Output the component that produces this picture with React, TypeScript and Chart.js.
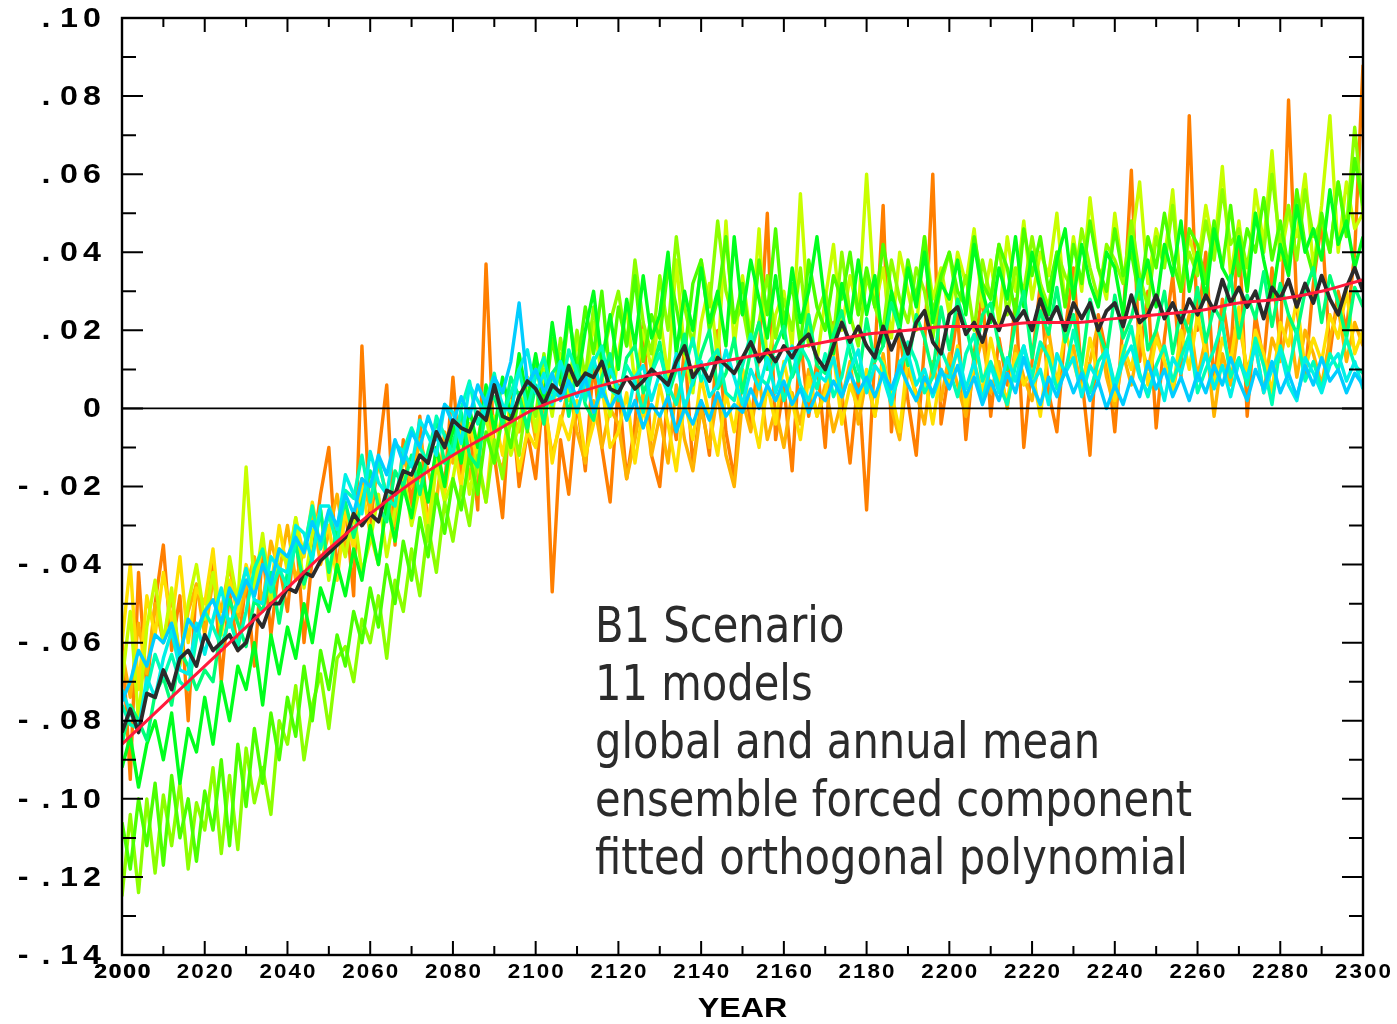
import React, { useEffect, useRef } from "react";
import { Chart, registerables } from "chart.js";

Chart.register(...registerables);

// Values are in thousandths (-86 = -.086)
const YEARS = Array.from({ length: 151 }, (_, i) => 2000 + i * 2);
const FIT_YEARS = Array.from({ length: 31 }, (_, i) => 2000 + i * 10);

const FIT = [-86, -76, -66, -56, -46, -36, -27, -19, -12, -6, 0, 4, 7, 9, 11, 13, 15, 17, 19, 20, 21, 21, 22, 22, 23, 24, 25, 27, 28, 30, 33];

const MEAN = [
  -83, -77, -83, -73, -74, -67, -72, -64, -62, -66, -58, -62, -60, -58, -62, -60, -53, -56, -50, -50,
  -46, -47, -42, -43, -39, -37, -35, -33, -27, -30, -27, -29, -21, -22, -16, -17, -12, -14, -6, -10,
  -3, -5, -6, -1, -3, 6, -2, -3, 3, 7, 5, 1, 6, 4, 11, 6, 9, 8, 12, 5,
  4, 8, 5, 7, 10, 8, 6, 12, 16, 8, 11, 7, 13, 11, 9, 13, 17, 12, 15, 12,
  16, 13, 17, 19, 13, 10, 16, 22, 17, 21, 16, 13, 21, 15, 20, 14, 22, 25, 17, 14,
  24, 26, 19, 22, 17, 24, 20, 26, 22, 25, 20, 28, 22, 26, 20, 27, 23, 27, 20, 25,
  27, 21, 29, 22, 24, 29, 23, 27, 22, 28, 24, 29, 25, 33, 27, 31, 26, 30, 23, 31,
  28, 33, 26, 32, 27, 34, 28, 24, 31, 36, 30,
];

const ORANGE = [
  -58, -95, -42, -72, -50, -35, -62, -48, -80, -45, -56, -38, -70, -47, -62, -44, -66, -36, -58, -40,
  -52, -30, -60, -38, -22, -10, -42, -25, -48, 16, -30, -12, 6, -35, -8, -25, -2, -32, -10, -20,
  8, -18, -4, -26, 37, -12, -28, 4, -20, -6, -18, 6, -47, -8, -22, 2, -16, 12, -10, -24,
  6, -18, -4, 22, -12, -20, 4, -8, 16, -15, 2, -12, 20, -6, -18, 10, -4, 14, 50, -8,
  6, -16, 18, -2, 12, -10, 22, 4, -14, 8, -26, 14, 52, -6, 20, 2, -12, 16, 60, -4,
  10, 24, -8, 14, 30, -2, 18, 6, 28, -10, 12, 32, 4, -6, 20, 36, 8, -12, 24, 14,
  -6, 22, 61, 12, 30, -5, 18, 34, 8, 75, 20, 40, 6, 28, 14, 46, -2, 24, 12, 36,
  16, 79, 26, 8, 32, 48, 14, 30, 20, 40, 88,
];

const AMBER = [
  -62, -74, -55, -68, -50, -60, -48, -64, -52, -45, -58, -44, -52, -40, -54, -46, -38, -50, -34, -42,
  -30, -44, -36, -26, -40, -32, -22, -36, -28, -18, -26, -14, -22, -30, -12, -20, -8, -16, -24, -6,
  -14, -2, -18, -8, 2, -10, -16, 0, -6, 4, -8, 2, -12, -4, 6, -6, -14, 2, -10, 0,
  -4, -18, -8, 4, -12, -2, -14, 6, -8, -16, 0, -10, 4, -12, -20, 2, -6, 8, -8, 0,
  -10, 4, -4, 10, -2, 6, -6, 2, 12, -4, 8, -2, 14, 0, -8, 10, 4, -4, 12, 2,
  14, 6, -2, 10, 18, 4, 12, 0, 16, 8, 2, 14, 20, 6, 10, 16, 4, 12, 22, 8,
  0, 14, 6, 18, 10, 20, 12, 4, 16, 24, 8, 18, -2, 14, 6, 22, 10, 16, 4, 18,
  12, 24, 8, 20, 14, 6, 18, 26, 12, 22, 16,
];

const GOLD = [
  -60, -40, -72, -48, -58, -42, -55, -38, -60, -46, -50, -36, -58, -44, -52, -40, -48, -34, -46, -30,
  -42, -28, -38, -24, -36, -30, -44, -26, -36, -20, -32, -40, -24, -34, -18, -28, -16, -30, -12, -22,
  -8, -20, -4, -14, -24, -2, -12, 2, -16, -6, -10, 4, -14, -2, -8, 2, -12, -4, 6, -10,
  -6, 4, -14, 0, -8, 6, -4, -16, 2, -8, 8, -2, -12, 4, -6, 10, 0, -10, 6, -4,
  12, 2, -8, 8, -2, 4, 14, -4, 6, 0, 10, -2, 12, 4, -6, 14, 2, 8, -4, 10,
  6, 16, 0, 12, 4, 18, 8, 2, 14, 6, 10, -2, 16, 6, 20, 12, 4, 18, 8, 14,
  2, 16, 10, 22, 6, 18, 12, 4, 20, 10, 24, 14, 6, 18, 12, 26, 8, 20, 14, 4,
  22, 16, 28, 10, 18, 12, 24, 18, 30, 14, 20,
];

const YELLOWGREEN = [
  -70, -52, -80, -56, -44, -60, -46, -66, -50, -40, -54, -42, -58, -38, -50, -15, -46, -32, -50, -36,
  -40, -28, -46, -32, -26, -44, -30, -38, -26, -42, -34, -22, -38, -26, -16, -30, -20, -34, -14, -24,
  -18, -6, -22, -10, -2, -14, 0, -12, -4, 8, -6, 10, -2, 14, 2, 18, 4, 22, 8, -2,
  14, 26, 6, 20, 10, 24, 8, 38, 14, 4, 22, 32, 12, 48, 16, 34, 18, 46, 10, 24,
  30, 16, 55, 22, 12, 28, 42, 20, 34, 24, 60, 26, 36, 18, 40, 30, 20, 44, 28, 36,
  24, 40, 32, 46, 26, 38, 22, 44, 30, 48, 28, 40, 34, 50, 26, 44, 30, 54, 36, 28,
  50, 34, 42, 58, 32, 46, 38, 56, 30, 44, 36, 52, 40, 62, 34, 48, 30, 56, 42, 66,
  38, 50, 44, 60, 36, 52, 75, 40, 58, 46, 50,
];

const LIME = [
  -125, -104, -124, -100, -119, -99, -112, -96, -118, -101, -108, -92, -114, -94, -113, -87, -101, -92, -104, -80,
  -86, -71, -90, -76, -68, -82, -64, -61, -70, -54, -60, -48, -64, -44, -52, -36, -48, -30, -42, -24,
  -34, -20, -30, -12, -24, -8, -18, -2, -12, 4, -2, 14, 0, 18, 6, 20, 8, 26, 12, 22,
  30, 16, 38, 22, 14, 34, 20, 44, 26, 16, 38, 26, 48, 30, 22, 26, 14, 22, 34, 18,
  28, 20, 36, 16, 24, 30, 18, 40, 24, 16, 34, 26, 20, 38, 28, 22, 36, 30, 18, 32,
  40, 26, 34, 20, 38, 28, 42, 24, 36, 30, 44, 32, 26, 40, 34, 30, 46, 36, 28, 42,
  38, 32, 48, 34, 26, 44, 36, 52, 30, 40, 34, 48, 38, 56, 42, 46, 36, 50, 40, 60,
  42, 52, 38, 56, 44, 48, 40, 58, 46, 72, 50,
];

const GREEN1 = [
  -106, -118, -100, -112, -96, -117, -94, -110, -100, -116, -98, -108, -90, -112, -86, -102, -82, -96, -78, -90,
  -74, -84, -66, -80, -62, -72, -58, -66, -52, -60, -46, -56, -40, -50, -34, -44, -28, -38, -22, -32,
  -18, -26, -12, -22, -6, -14, -2, -10, 4, -6, 12, 0, 18, 6, 24, 10, 26, 14, 30, 8,
  26, 16, 34, 12, 24, 18, 36, 26, 14, 32, 38, 20, 28, 44, 22, 32, 16, 38, 24, 46,
  22, 32, 16, 38, 26, 20, 34, 28, 40, 24, 36, 26, 42, 30, 22, 38, 28, 44, 24, 34,
  40, 30, 26, 44, 32, 28, 42, 36, 24, 46, 34, 44, 30, 40, 26, 42, 32, 48, 36, 30,
  46, 34, 40, 28, 44, 36, 50, 38, 30, 46, 42, 32, 48, 36, 52, 34, 46, 40, 54, 38,
  48, 36, 56, 42, 34, 50, 40, 58, 44, 64, 52,
];

const GREEN2 = [
  -92, -84, -97, -86, -80, -90, -78, -96, -82, -88, -74, -86, -70, -80, -66, -72, -60, -76, -58, -68,
  -56, -64, -50, -60, -46, -52, -40, -48, -36, -44, -30, -40, -24, -34, -20, -28, -14, -24, -10, -20,
  -4, -14, 0, -10, 6, -6, 8, -2, 14, 2, 14, 2, 22, 8, 26, 6, 20, 30, 12, 24,
  10, 28, 16, 34, 18, 24, 40, 14, 30, 20, 36, 22, 30, 16, 44, 24, 38, 28, 18, 34,
  18, 36, 22, 30, 44, 26, 14, 32, 22, 38, 24, 34, 16, 30, 20, 36, 26, 40, 22, 32,
  28, 38, 24, 42, 30, 22, 36, 28, 44, 26, 40, 30, 24, 38, 46, 28, 42, 32, 26, 40,
  36, 24, 44, 30, 38, 26, 42, 34, 48, 30, 40, 28, 46, 36, 32, 44, 30, 50, 38, 28,
  42, 34, 52, 40, 46, 38, 56, 42, 48, 36, 44,
];

const SPRING = [
  -86, -76, -80, -85, -73, -69, -76, -62, -66, -72, -67, -70, -56, -49, -55, -61, -49, -52, -42, -55,
  -42, -35, -45, -38, -26, -42, -31, -24, -33, -24, -16, -25, -29, -16, -20, -12, -22, -11, -3, -14,
  -9, -1, -12, -15, 1, 3, -4, 8, 3, -5, 6, -4, 9, 12, -2, 11, 1, -3, 8, 14,
  2, 13, 16, 4, 9, 17, 3, 10, 19, 6, 14, 20, 5, 9, 18, 4, 15, 22, 10, 16,
  21, 8, 13, 24, 11, 9, 19, 25, 14, 7, 23, 12, 16, 27, 20, 11, 24, 18, 9, 26,
  15, 28, 21, 12, 24, 27, 16, 10, 22, 30, 13, 25, 19, 31, 17, 24, 11, 28, 20, 14,
  29, 18, 23, 33, 15, 20, 30, 14, 25, 19, 31, 17, 26, 22, 34, 18, 29, 23, 35, 21,
  32, 24, 19, 30, 36, 22, 34, 27, 18, 31, 26,
];

const AQUA = [
  -76, -81, -82, -72, -63, -69, -63, -70, -72, -59, -52, -56, -61, -54, -61, -52, -41, -36, -47, -41,
  -46, -34, -36, -25, -36, -27, -35, -21, -23, -12, -24, -13, -23, -25, -11, -5, -10, -14, -2, -7,
  -12, 0, 7, -4, 2, 9, -2, 4, 10, 0, 8, 13, 4, 3, 15, 9, 2, 12, 16, 5,
  3, 11, 7, -1, 9, 14, 6, 1, 10, 18, 7, 12, 15, 4, 2, 11, 19, 8, 6, 13,
  2, 9, 16, 12, 5, 14, 3, 8, 18, 10, 6, 15, 11, 2, 9, 17, 12, 4, 8, 15,
  10, 3, 14, 19, 7, 12, 6, 1, 11, 16, 8, 17, 13, 5, 9, 20, 10, 4, 12, 15,
  6, 14, 21, 9, 3, 11, 16, 7, 13, 19, 4, 10, 15, 22, 8, 13, 6, 18, 11, 1,
  16, 9, 20, 7, 12, 5, 14, 10, 18, 11, 9,
];

const TURQUOISE = [
  -72, -78, -82, -69, -74, -64, -57, -67, -68, -55, -63, -54, -46, -56, -49, -41, -49, -50, -38, -41,
  -42, -30, -32, -39, -25, -25, -31, -17, -22, -27, -11, -19, -22, -9, -11, -15, -3, -7, -12, 1,
  -1, -9, 6, 2, -2, 7, 1, -1, 10, 15, 4, 9, 1, 12, 6, -1, 7, 13, 3, 10,
  5, -3, 8, 11, 2, 9, 4, 14, 0, 7, 12, 3, 6, 15, 8, 1, 10, 5, 13, 4,
  11, 16, 6, 2, 9, 7, 13, 3, 10, 15, 4, 11, 8, 1, 12, 14, 6, 10, 3, 9,
  8, 15, 5, 12, 2, 11, 4, 13, 7, 16, 6, 10, 1, 14, 9, 13, 3, 11, 7, 15,
  5, 12, 16, 8, 4, 10, 2, 13, 9, 17, 7, 14, 5, 11, 3, 12, 8, 16, 4, 10,
  15, 6, 2, 13, 9, 4, 11, 14, 7, 12, 5,
];

const CYAN = [
  -75, -70, -62, -66, -58, -60, -55, -63, -54, -57, -52, -49, -55, -46, -50, -44, -48, -40, -45, -36,
  -38, -33, -37, -29, -34, -26, -30, -22, -27, -18, -20, -12, -17, -8, -14, -6, -10, -2, -8, 1,
  -4, 3, -2, 6, 1, 8, 4, 12, 27, 6, 10, 4, 9, 2, 7, 3, 8, -1, 5, 0,
  4, -3, 2, -5, 1, -2, 3, -6, 0, -4, 2, -3, 4, -2, 1, -1, 5, 0, 6, 2,
  7, 1, 5, -1, 4, 2, 7, 3, 9, 4, 8, 3, 9, 5, 11, 6, 2, 8, 4, 10,
  5, 11, 3, 8, 1, 7, 2, 9, 4, 13, 6, 1, 8, 3, 10, 4, 9, 2, 7, 0,
  6, 1, 8, 3, 12, 5, 10, 3, 8, 2, 9, 4, 11, 6, 13, 7, 2, 10, 5, 12,
  4, 9, 3, 11, 6, 13, 7, 10, 4, 9, 6,
];

const MODEL_SERIES = [CYAN, TURQUOISE, AQUA, SPRING, GREEN2, GREEN1, LIME, YELLOWGREEN, GOLD, AMBER, ORANGE];
const MODEL_COLORS = ["#00cdff", "#00f0e6", "#00ffb4", "#00ff78", "#00ff1e", "#4cff00", "#8cff00", "#c8ff00", "#ffe000", "#ffb300", "#ff7f00"];

const Y_MAJOR = [100, 80, 60, 40, 20, 0, -20, -40, -60, -80, -100, -120, -140];
const Y_LABELS = [".10", ".08", ".06", ".04", ".02", "0", "-.02", "-.04", "-.06", "-.08", "-.10", "-.12", "-.14"];
const Y_MINOR = [90, 70, 50, 30, 10, -10, -30, -50, -70, -90, -110, -130];
const X_MAJOR = [2000, 2020, 2040, 2060, 2080, 2100, 2120, 2140, 2160, 2180, 2200, 2220, 2240, 2260, 2280, 2300];
const X_LABELS = ["2000", "2020", "2040", "2060", "2080", "2100", "2120", "2140", "2160", "2180", "2200", "2220", "2240", "2260", "2280", "2300"];
const X_MINOR = [2010, 2030, 2050, 2070, 2090, 2110, 2130, 2150, 2170, 2190, 2210, 2230, 2250, 2270, 2290];
const X_TITLE = "YEAR";
const NOTE_LINES = ["B1 Scenario", "11 models", "global and annual mean", "ensemble forced component", "fitted orthogonal polynomial"];

function drawChars(ctx: CanvasRenderingContext2D, text: string, firstCenter: number, cy: number, pitch: number, sx: number) {
  for (let i = 0; i < text.length; i++) {
    ctx.save();
    ctx.translate(firstCenter + i * pitch, cy);
    ctx.scale(sx, 1);
    ctx.fillText(text[i], 0, 0);
    ctx.restore();
  }
}

const decorPlugin = {
  id: "decor",
  afterDatasetsDraw(chart: any) {
    const { ctx, chartArea: a, scales } = chart;
    const xs = scales.x;
    const ys = scales.y;
    ctx.save();
    ctx.strokeStyle = "#000";
    ctx.lineWidth = 1.6;
    const y0 = ys.getPixelForValue(0);
    ctx.beginPath();
    ctx.moveTo(a.left, y0);
    ctx.lineTo(a.right, y0);
    ctx.stroke();
    ctx.lineWidth = 2;
    ctx.beginPath();
    Y_MAJOR.forEach((v) => {
      const p = ys.getPixelForValue(v);
      ctx.moveTo(a.left, p); ctx.lineTo(a.left + 21, p);
      ctx.moveTo(a.right, p); ctx.lineTo(a.right - 21, p);
    });
    Y_MINOR.forEach((v) => {
      const p = ys.getPixelForValue(v);
      ctx.moveTo(a.left, p); ctx.lineTo(a.left + 14, p);
      ctx.moveTo(a.right, p); ctx.lineTo(a.right - 14, p);
    });
    X_MAJOR.forEach((v) => {
      const p = xs.getPixelForValue(v);
      ctx.moveTo(p, a.bottom); ctx.lineTo(p, a.bottom - 14);
      ctx.moveTo(p, a.top); ctx.lineTo(p, a.top + 14);
    });
    X_MINOR.forEach((v) => {
      const p = xs.getPixelForValue(v);
      ctx.moveTo(p, a.bottom); ctx.lineTo(p, a.bottom - 9);
      ctx.moveTo(p, a.top); ctx.lineTo(p, a.top + 9);
    });
    ctx.stroke();
    ctx.lineWidth = 2.4;
    ctx.strokeRect(a.left, a.top, a.right - a.left, a.bottom - a.top);

    ctx.fillStyle = "#000";
    ctx.textAlign = "center";
    ctx.textBaseline = "middle";
    ctx.font = "bold 28px 'Liberation Sans', Arial, sans-serif";
    const yPitch = 23;
    const lastCenter = a.left - 30;
    Y_MAJOR.forEach((v, i) => {
      const t = Y_LABELS[i];
      const p = ys.getPixelForValue(v);
      drawChars(ctx, t, lastCenter - (t.length - 1) * yPitch, p + 1, yPitch, 1.15);
    });
    ctx.font = "bold 20px 'Liberation Sans', Arial, sans-serif";
    const xPitch = 14.5;
    X_MAJOR.forEach((v, i) => {
      const t = X_LABELS[i];
      const p = xs.getPixelForValue(v);
      const first = p - ((t.length - 1) / 2) * xPitch;
      drawChars(ctx, t, first, a.bottom + 17, xPitch, 1.12);
      if (i === 0) {
        drawChars(ctx, t, first + 0.8, a.bottom + 17, xPitch, 1.12);
      }
    });
    ctx.font = "bold 28px 'Liberation Sans', Arial, sans-serif";
    ctx.save();
    ctx.translate((a.left + a.right) / 2, 1009);
    ctx.scale(1.15, 1);
    ctx.fillText(X_TITLE, 0, 0);
    ctx.restore();

    ctx.fillStyle = "#2b2b2b";
    ctx.textAlign = "left";
    ctx.textBaseline = "alphabetic";
    ctx.font = "49px 'DejaVu Sans', Verdana, sans-serif";
    NOTE_LINES.forEach((line, i) => {
      ctx.save();
      ctx.translate(595, 642 + i * 58);
      ctx.scale(0.85, 1);
      ctx.fillText(line, 0, 0);
      ctx.restore();
    });
    ctx.restore();
  },
};

export default function App() {
  const ref = useRef<HTMLCanvasElement | null>(null);
  useEffect(() => {
    if (!ref.current) return;
    const toPts = (arr: number[], xs: number[]) => arr.map((v, i) => ({ x: xs[i], y: v }));
    const datasets: any[] = [
      {
        label: "fitted polynomial",
        data: toPts(FIT, FIT_YEARS),
        borderColor: "#ff1a3c",
        borderWidth: 3,
        pointRadius: 0,
        cubicInterpolationMode: "monotone",
        fill: false,
      },
      {
        label: "ensemble mean",
        data: toPts(MEAN, YEARS),
        borderColor: "#2b2b2b",
        borderWidth: 3.8,
        pointRadius: 0,
        tension: 0,
        fill: false,
        borderJoinStyle: "round",
      },
      ...MODEL_SERIES.map((s, k) => ({
        label: "model " + (k + 1),
        data: toPts(s, YEARS),
        borderColor: MODEL_COLORS[k],
        borderWidth: 3.4,
        pointRadius: 0,
        tension: 0,
        fill: false,
        borderJoinStyle: "round",
      })),
    ];
    const chart = new Chart(ref.current, {
      type: "line",
      data: { datasets },
      options: {
        animation: false,
        responsive: false,
        events: [],
        layout: { padding: { left: 122, top: 18, right: 34, bottom: 69 } },
        plugins: { legend: { display: false }, tooltip: { enabled: false }, title: { display: false } },
        scales: {
          x: { type: "linear", min: 2000, max: 2300, display: false },
          y: { type: "linear", min: -140, max: 100, display: false },
        },
      },
      plugins: [decorPlugin],
    });
    return () => chart.destroy();
  }, []);
  return (
    <div style={{ position: "absolute", left: 0, top: 0, width: 1397, height: 1024, background: "#fff" }}>
      <canvas ref={ref} width={1397} height={1024} style={{ display: "block" }} />
    </div>
  );
}
